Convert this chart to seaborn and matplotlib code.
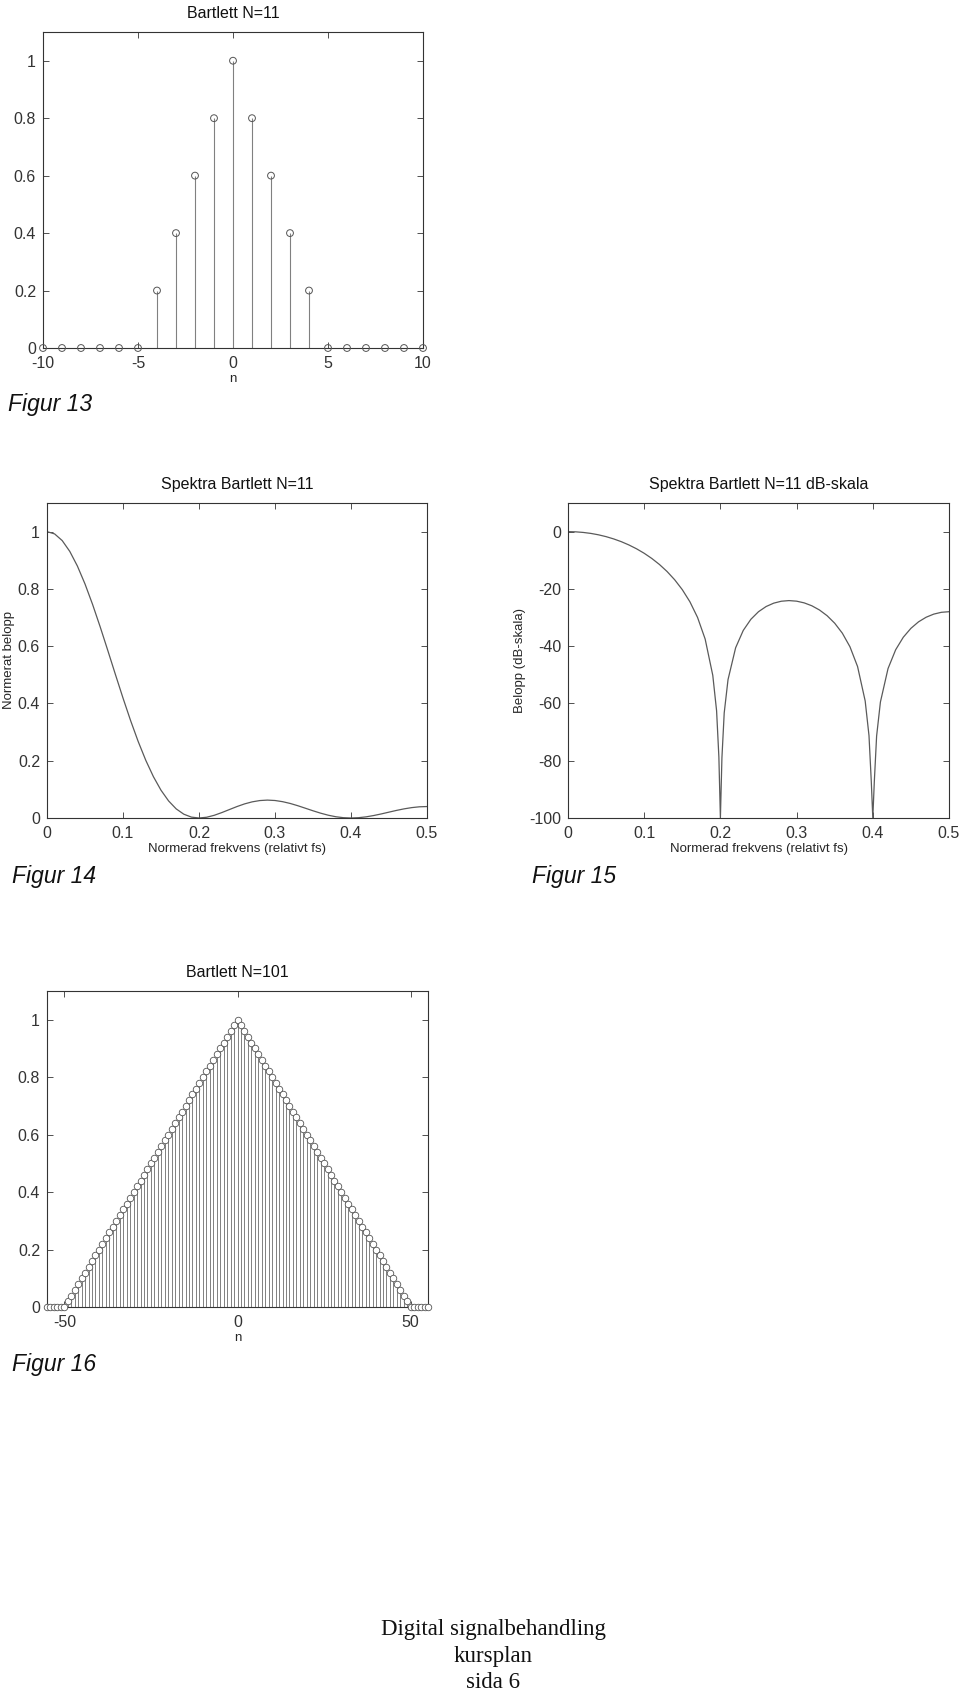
import matplotlib
matplotlib.use("Agg")
import matplotlib.pyplot as plt
import seaborn as sns

# ---------------- data ----------------
n11 = list(range(-10, 11))
w11 = [0, 0, 0, 0, 0, 0, 0.2, 0.4, 0.6, 0.8, 1.0, 0.8, 0.6, 0.4, 0.2, 0, 0, 0, 0, 0, 0]

freq = [0.00, 0.01, 0.02, 0.03, 0.04, 0.05, 0.06, 0.07, 0.08, 0.09,
        0.10, 0.11, 0.12, 0.13, 0.14, 0.15, 0.16, 0.17, 0.18, 0.19,
        0.20, 0.21, 0.22, 0.23, 0.24, 0.25, 0.26, 0.27, 0.28, 0.29,
        0.30, 0.31, 0.32, 0.33, 0.34, 0.35, 0.36, 0.37, 0.38, 0.39,
        0.40, 0.41, 0.42, 0.43, 0.44, 0.45, 0.46, 0.47, 0.48, 0.49, 0.50]
mag = [1.0, 0.9921, 0.9688, 0.9309, 0.8798, 0.8173, 0.7456, 0.6673, 0.5850, 0.5013,
       0.4189, 0.3401, 0.2670, 0.2013, 0.1444, 0.0970, 0.0596, 0.0318, 0.0133, 0.0031,
       0.0, 0.0026, 0.0094, 0.0189, 0.0295, 0.0400, 0.0493, 0.0564, 0.0609, 0.0625,
       0.0611, 0.0570, 0.0508, 0.0429, 0.0341, 0.0252, 0.0169, 0.0098, 0.0044, 0.0011,
       0.0, 0.0011, 0.0041, 0.0087, 0.0143, 0.0205, 0.0266, 0.0320, 0.0363, 0.0391, 0.0400]

freq_db = [0.00, 0.01, 0.02, 0.03, 0.04, 0.05, 0.06, 0.07, 0.08, 0.09,
           0.10, 0.11, 0.12, 0.13, 0.14, 0.15, 0.16, 0.17, 0.18, 0.19,
           0.195, 0.198, 0.20, 0.202, 0.205,
           0.21, 0.22, 0.23, 0.24, 0.25, 0.26, 0.27, 0.28, 0.29,
           0.30, 0.31, 0.32, 0.33, 0.34, 0.35, 0.36, 0.37, 0.38, 0.39,
           0.395, 0.398, 0.40, 0.402, 0.405,
           0.41, 0.42, 0.43, 0.44, 0.45, 0.46, 0.47, 0.48, 0.49, 0.50]
mag_db = [0.0, -0.07, -0.28, -0.62, -1.11, -1.75, -2.55, -3.51, -4.66, -6.00,
          -7.56, -9.37, -11.47, -13.92, -16.81, -20.26, -24.50, -29.95, -37.52, -50.18,
          -62.56, -78.69, -100.0, -78.99, -63.31,
          -51.68, -40.54, -34.49, -30.61, -27.96, -26.15, -24.97, -24.30, -24.08,
          -24.28, -24.88, -25.89, -27.36, -29.35, -31.98, -35.45, -40.19, -47.10, -59.13,
          -71.21, -87.17, -100.0, -87.24, -71.39,
          -59.48, -47.81, -41.25, -36.88, -33.77, -31.50, -29.89, -28.80, -28.17, -27.96]

n101 = list(range(-55, 56))
w101 = [0, 0, 0, 0, 0, 0,
        0.02, 0.04, 0.06, 0.08, 0.10, 0.12, 0.14, 0.16, 0.18, 0.20,
        0.22, 0.24, 0.26, 0.28, 0.30, 0.32, 0.34, 0.36, 0.38, 0.40,
        0.42, 0.44, 0.46, 0.48, 0.50, 0.52, 0.54, 0.56, 0.58, 0.60,
        0.62, 0.64, 0.66, 0.68, 0.70, 0.72, 0.74, 0.76, 0.78, 0.80,
        0.82, 0.84, 0.86, 0.88, 0.90, 0.92, 0.94, 0.96, 0.98,
        1.00,
        0.98, 0.96, 0.94, 0.92, 0.90, 0.88, 0.86, 0.84, 0.82, 0.80,
        0.78, 0.76, 0.74, 0.72, 0.70, 0.68, 0.66, 0.64, 0.62, 0.60,
        0.58, 0.56, 0.54, 0.52, 0.50, 0.48, 0.46, 0.44, 0.42, 0.40,
        0.38, 0.36, 0.34, 0.32, 0.30, 0.28, 0.26, 0.24, 0.22, 0.20,
        0.18, 0.16, 0.14, 0.12, 0.10, 0.08, 0.06, 0.04, 0.02,
        0, 0, 0, 0, 0, 0]

# ---------------- style ----------------
sns.set_theme(style="ticks")
plt.rcParams['font.family'] = ['Liberation Sans', 'DejaVu Sans']
plt.rcParams['axes.edgecolor'] = '#333333'
plt.rcParams['axes.linewidth'] = 0.8
plt.rcParams['xtick.color'] = '#333333'
plt.rcParams['ytick.color'] = '#333333'
plt.rcParams['text.color'] = '#111111'

W, H = 960, 1691
fig = plt.figure(figsize=(W / 100, H / 100), dpi=100)

TICK_FS = 11.5
TITLE_FS = 11.5
LABEL_FS = 9.5


def axes_px(l, r, t, b):
    return fig.add_axes([l / W, 1 - b / H, (r - l) / W, (b - t) / H])


def style(ax, title, xticks, xlabels, yticks, ylabels, xlim, ylim,
          xlabel=None, ylabel=None, ylabel_x=None):
    ax.set_xlim(*xlim)
    ax.set_ylim(*ylim)
    ax.set_xticks(xticks)
    ax.set_xticklabels(xlabels, fontsize=TICK_FS)
    ax.set_yticks(yticks)
    ax.set_yticklabels(ylabels, fontsize=TICK_FS)
    ax.tick_params(direction='in', top=True, right=True, length=4, width=0.6)
    ax.tick_params(axis='x', pad=6)
    ax.tick_params(axis='y', pad=5)
    for s in ax.spines.values():
        s.set_visible(True)
        s.set_color('#333333')
    ax.set_title(title, fontsize=TITLE_FS, pad=10)
    ax.set_xlabel(xlabel if xlabel else '', fontsize=LABEL_FS, labelpad=1)
    ax.set_ylabel(ylabel if ylabel else '', fontsize=LABEL_FS)
    if ylabel_x is not None:
        ax.yaxis.set_label_coords(ylabel_x, 0.5)
        ax.yaxis.label.set_verticalalignment('center')


line_col = '#5a5a5a'
stem_col = '#808080'
mark_col = '#555555'

# ---- Figure 13 ----
ax1 = axes_px(43, 423, 32, 348)
ax1.vlines(n11, 0, w11, color=stem_col, lw=0.8)
sns.scatterplot(x=n11, y=w11, ax=ax1, marker='o', s=24, linewidth=0.7,
                clip_on=False, zorder=3)
ax1.collections[-1].set_facecolor('none')
ax1.collections[-1].set_edgecolor(mark_col)
style(ax1, 'Bartlett N=11', [-10, -5, 0, 5, 10], ['-10', '-5', '0', '5', '10'],
      [0, 0.2, 0.4, 0.6, 0.8, 1], ['0', '0.2', '0.4', '0.6', '0.8', '1'],
      (-10, 10), (0, 1.1), xlabel='n')

# ---- Figure 14 ----
ax2 = axes_px(47, 427, 503, 818)
sns.lineplot(x=freq, y=mag, ax=ax2, color=line_col, lw=0.9)
style(ax2, 'Spektra Bartlett N=11', [0, 0.1, 0.2, 0.3, 0.4, 0.5],
      ['0', '0.1', '0.2', '0.3', '0.4', '0.5'],
      [0, 0.2, 0.4, 0.6, 0.8, 1], ['0', '0.2', '0.4', '0.6', '0.8', '1'],
      (0, 0.5), (0, 1.1), xlabel='Normerad frekvens (relativt fs)',
      ylabel='Normerat belopp', ylabel_x=(9 - 47) / 380)

# ---- Figure 15 ----
ax3 = axes_px(568, 949, 503, 818)
sns.lineplot(x=freq_db, y=mag_db, ax=ax3, color=line_col, lw=0.9)
style(ax3, 'Spektra Bartlett N=11 dB-skala', [0, 0.1, 0.2, 0.3, 0.4, 0.5],
      ['0', '0.1', '0.2', '0.3', '0.4', '0.5'],
      [-100, -80, -60, -40, -20, 0], ['-100', '-80', '-60', '-40', '-20', '0'],
      (0, 0.5), (-100, 10), xlabel='Normerad frekvens (relativt fs)',
      ylabel='Belopp (dB-skala)', ylabel_x=(520 - 568) / 381)

# ---- Figure 16 ----
ax4 = axes_px(47, 428, 991, 1307)
ax4.vlines(n101, 0, w101, color=stem_col, lw=0.7)
sns.scatterplot(x=n101, y=w101, ax=ax4, marker='o', s=22, linewidth=0.6,
                clip_on=False, zorder=3)
ax4.collections[-1].set_facecolor('white')
ax4.collections[-1].set_edgecolor(mark_col)
style(ax4, 'Bartlett N=101', [-50, 0, 50], ['-50', '0', '50'],
      [0, 0.2, 0.4, 0.6, 0.8, 1], ['0', '0.2', '0.4', '0.6', '0.8', '1'],
      (-55, 55), (0, 1.1), xlabel='n')

# ---- figure captions ----
for txt, x, y in [('Figur 13', 8, 405), ('Figur 14', 12, 876),
                  ('Figur 15', 532, 876), ('Figur 16', 12, 1365)]:
    fig.text(x / W, 1 - y / H, txt, fontsize=16.5, style='italic', ha='left', va='center')

for txt, y in [('Digital signalbehandling', 1635), ('kursplan', 1662), ('sida 6', 1688)]:
    fig.text(493 / W, 1 - y / H, txt, family='Liberation Serif',
             fontsize=16.5, ha='center', va='baseline')

fig.savefig('out.png', dpi=100, facecolor='white')
